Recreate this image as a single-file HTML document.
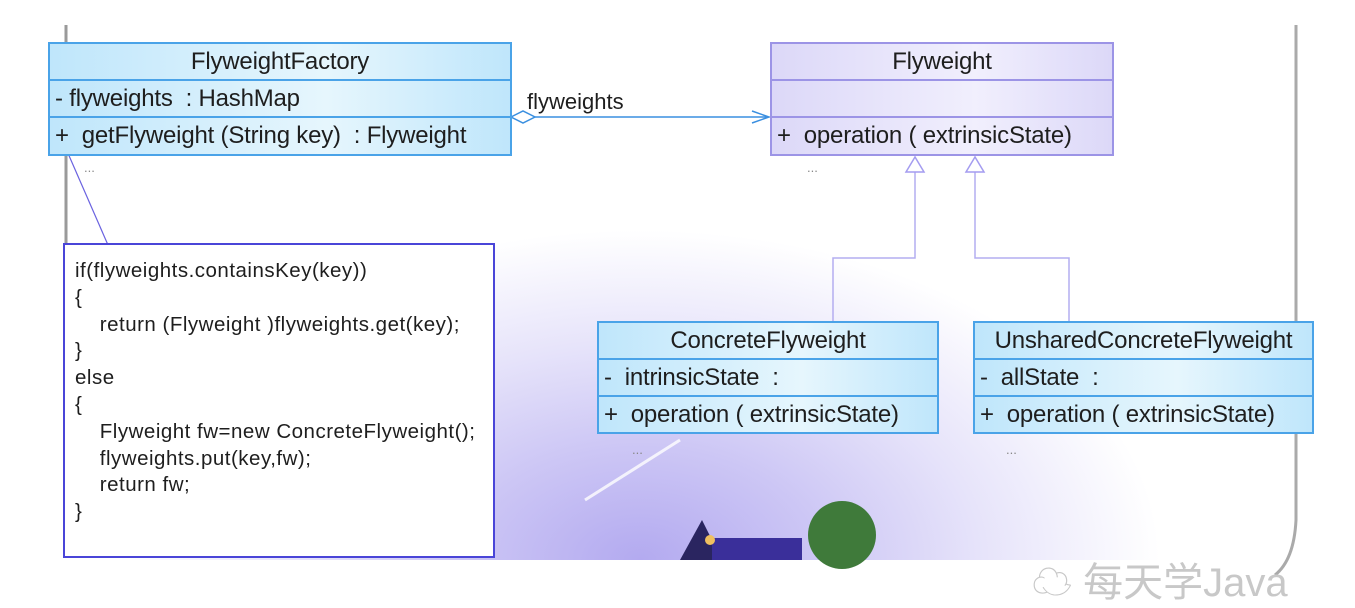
<!DOCTYPE html>
<html><head><meta charset="utf-8"><style>
body{margin:0;width:1355px;height:591px;overflow:hidden;background:#fff;position:relative;font-family:"Liberation Sans","Noto Sans CJK SC",sans-serif;color:#222}
.bg{position:absolute;left:0;top:0;width:1300px;height:560px;background:radial-gradient(ellipse 520px 330px at 640px 560px,#b3aaf0 0%,#cdc7f5 35%,#e6e3fa 65%,rgba(255,255,255,0) 100%)}
.box{position:absolute;border:2px solid #4aa3e8;box-sizing:border-box;background:linear-gradient(90deg,#bfe6fb,#e6f6fd 60%,#bfe6fb)}
.box div{box-sizing:border-box;border-bottom:2px solid #4aa3e8;height:37px;line-height:35px;font-size:24px;white-space:nowrap;padding-left:5px;letter-spacing:-0.2px;color:#1e1e1e}
.box div:last-child{border-bottom:none}
.box .h{text-align:center;padding-left:0}
.p{background:linear-gradient(90deg,#dcd8f8,#f1effd 60%,#dcd8f8);border-color:#9c94e6}
.p div{border-color:#9c94e6}
.dots{position:absolute;font-size:13px;color:#888}
.note{position:absolute;left:63px;top:243px;width:432px;height:315px;border:2px solid #4a45d8;box-sizing:border-box;background:#fff;font-size:20.5px;line-height:26.8px;padding:13px 0 0 10px;white-space:pre;letter-spacing:0.5px;color:#1e1e1e}
</style></head><body>
<div class="bg"></div>
<svg width="1355" height="591" style="position:absolute;left:0;top:0">
<line x1="66" y1="25" x2="66" y2="243" stroke="#9a9a9a" stroke-width="3"/>
<path d="M1296 25 L1296 520 Q1294 560 1275 575" fill="none" stroke="#aaa" stroke-width="3"/>
<line x1="60" y1="135" x2="108" y2="245" stroke="#6a62e0" stroke-width="1.2"/>
<line x1="535" y1="117" x2="768" y2="117" stroke="#3a8fe0" stroke-width="1.5"/>
<path d="M511 117 L523 111 L535 117 L523 123 Z" fill="#fff" stroke="#3a8fe0" stroke-width="1.5"/>
<path d="M752 111 L769 117 L752 123" fill="none" stroke="#3a8fe0" stroke-width="1.5"/>
<path d="M915 172 L915 258 L833 258 L833 322" fill="none" stroke="#b4adf0" stroke-width="1.5"/>
<path d="M975 172 L975 258 L1069 258 L1069 322" fill="none" stroke="#b4adf0" stroke-width="1.5"/>
<path d="M915 157 L906 172 L924 172 Z" fill="#fff" stroke="#a49cf0" stroke-width="1.5"/>
<path d="M975 157 L966 172 L984 172 Z" fill="#fff" stroke="#a49cf0" stroke-width="1.5"/>
<line x1="680" y1="440" x2="585" y2="500" stroke="#fff" stroke-width="3" opacity="0.8"/>
<path d="M680 560 L702 520 L722 560 Z" fill="#2a2560"/>
<rect x="712" y="538" width="90" height="22" fill="#3a2f9a"/>
<circle cx="842" cy="535" r="34" fill="#3f7a3a"/>
<circle cx="710" cy="540" r="5" fill="#f0c060"/>
<path d="M488 245 L495 252 L488 252 Z" fill="#4a45d8"/>
<path d="M785 52 L795 55" stroke="#5a50d8" stroke-width="3"/>
</svg>
<div style="position:absolute;left:527px;top:89px;font-size:22px;color:#1e1e1e">flyweights</div>
<div class="box" style="left:48px;top:42px;width:464px;height:114px">
<div class="h">FlyweightFactory</div><div>- flyweights &nbsp;: HashMap</div><div>+ &nbsp;getFlyweight (String key) &nbsp;: Flyweight</div></div>
<div class="box p" style="left:770px;top:42px;width:344px;height:114px">
<div class="h">Flyweight</div><div></div><div>+ &nbsp;operation ( extrinsicState)</div></div>
<div class="box" style="left:597px;top:321px;width:342px;height:113px">
<div class="h">ConcreteFlyweight</div><div>- &nbsp;intrinsicState &nbsp;:</div><div>+ &nbsp;operation ( extrinsicState)</div></div>
<div class="box" style="left:973px;top:321px;width:341px;height:113px">
<div class="h">UnsharedConcreteFlyweight</div><div>- &nbsp;allState &nbsp;:</div><div>+ &nbsp;operation ( extrinsicState)</div></div>
<div class="dots" style="left:84px;top:160px">...</div>
<div class="dots" style="left:807px;top:160px">...</div>
<div class="dots" style="left:632px;top:442px">...</div>
<div class="dots" style="left:1006px;top:442px">...</div>
<div class="note">if(flyweights.containsKey(key))
{
    return (Flyweight )flyweights.get(key);
}
else
{
    Flyweight fw=new ConcreteFlyweight();
    flyweights.put(key,fw);
    return fw;
}</div>
<div style="position:absolute;left:1032px;top:550px;font-size:40px;color:#c8c8c8;white-space:nowrap">☁ 每天学Java</div>
</body></html>
